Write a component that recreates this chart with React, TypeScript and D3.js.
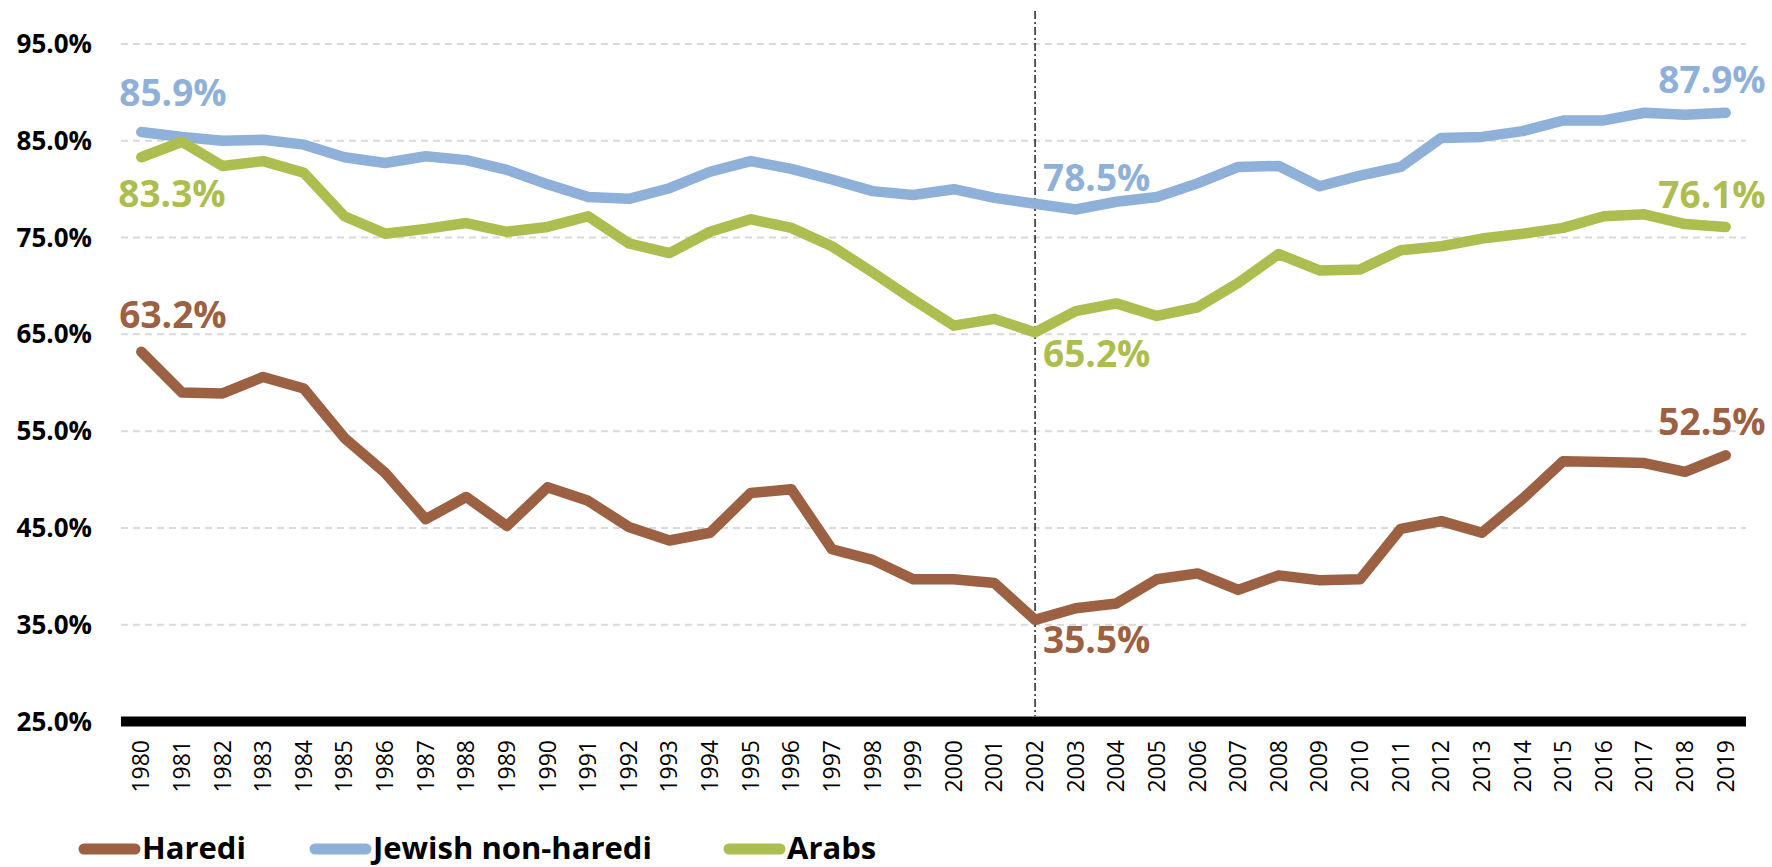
import * as d3 from "d3";
import { useEffect, useRef } from "react";

const years = d3.range(1980, 2020);

const haredi = [
  63.2, 59.0, 58.9, 60.6, 59.4, 54.3, 50.7, 45.9, 48.2, 45.2,
  49.2, 47.8, 45.1, 43.7, 44.5, 48.6, 49.0, 42.8, 41.7, 39.7,
  39.7, 39.3, 35.5, 36.7, 37.2, 39.7, 40.3, 38.6, 40.1, 39.6,
  39.7, 44.9, 45.7, 44.5, 48.0, 51.9, 51.8, 51.7, 50.8, 52.5,
];

const jewishNonHaredi = [
  85.9, 85.4, 85.0, 85.1, 84.6, 83.3, 82.7, 83.4, 83.0, 82.0,
  80.5, 79.2, 79.0, 80.1, 81.8, 82.9, 82.1, 81.0, 79.8, 79.4,
  80.0, 79.1, 78.5, 77.9, 78.7, 79.2, 80.6, 82.3, 82.4, 80.3,
  81.4, 82.3, 85.3, 85.4, 86.0, 87.1, 87.1, 87.9, 87.7, 87.9,
];

const arabs = [
  83.3, 84.9, 82.4, 82.9, 81.7, 77.2, 75.4, 75.9, 76.5, 75.6,
  76.1, 77.2, 74.4, 73.4, 75.6, 76.9, 76.0, 74.1, 71.4, 68.6,
  65.9, 66.6, 65.2, 67.4, 68.2, 66.9, 67.8, 70.3, 73.3, 71.6,
  71.7, 73.7, 74.1, 74.9, 75.4, 76.0, 77.2, 77.4, 76.4, 76.1,
];

const yTicks = [25, 35, 45, 55, 65, 75, 85, 95];
const seriesNames = ["Haredi", "Jewish non-haredi", "Arabs"];
const seriesColors = ["#9c6042", "#8fb0d8", "#aebd4f"];
const markerYear = 2002;
const labelYears = [1980, 2002, 2019];

const W = 1772;
const H = 867;

export default function App() {
  const svgRef = useRef<SVGSVGElement>(null);

  useEffect(() => {
    const svg = d3.select(svgRef.current);
    svg.selectAll("*").remove();

    const font = "'Open Sans', 'Noto Sans', sans-serif";
    const plotLeft = 121;
    const plotRight = 1746;

    const x = d3.scalePoint<number>().domain(years).range([plotLeft, plotRight]).padding(0.5);
    const y = d3.scaleLinear().domain([25, 95]).range([721.5, 44]);

    const data = [haredi, jewishNonHaredi, arabs];

    // gridlines
    svg
      .append("g")
      .selectAll("line")
      .data(yTicks.filter((t) => t > 25))
      .join("line")
      .attr("x1", plotLeft)
      .attr("x2", plotRight)
      .attr("y1", (d) => y(d))
      .attr("y2", (d) => y(d))
      .attr("stroke", "#d9d9d9")
      .attr("stroke-width", 2)
      .attr("stroke-dasharray", "7 5");

    // y labels
    svg
      .append("g")
      .selectAll("text")
      .data(yTicks)
      .join("text")
      .attr("x", 92)
      .attr("y", (d) => y(d))
      .attr("dy", "0.35em")
      .attr("text-anchor", "end")
      .attr("font-family", font)
      .attr("font-weight", 700)
      .attr("font-size", 26)
      .attr("fill", "#000")
      .text((d) => d.toFixed(1) + "%");

    // vertical marker
    svg
      .append("line")
      .attr("x1", x(markerYear)!)
      .attr("x2", x(markerYear)!)
      .attr("y1", 11)
      .attr("y2", 716)
      .attr("stroke", "#000")
      .attr("stroke-width", 1.3)
      .attr("stroke-dasharray", "8 3 2 3");

    // x axis base line
    svg
      .append("line")
      .attr("x1", plotLeft)
      .attr("x2", plotRight)
      .attr("y1", y(25))
      .attr("y2", y(25))
      .attr("stroke", "#000")
      .attr("stroke-width", 10);

    // x labels
    svg
      .append("g")
      .selectAll("text")
      .data(years)
      .join("text")
      .attr("transform", (d) => `translate(${x(d)! + 8}, 740) rotate(-90)`)
      .attr("text-anchor", "end")
      .attr("font-family", font)
      .attr("font-size", 23)
      .attr("fill", "#000")
      .text((d) => String(d));

    // lines
    const line = d3
      .line<number>()
      .x((_, i) => x(years[i])!)
      .y((d) => y(d));

    data.forEach((vals, k) => {
      svg
        .append("path")
        .attr("d", line(vals))
        .attr("fill", "none")
        .attr("stroke", seriesColors[k])
        .attr("stroke-width", 10.5)
        .attr("stroke-linecap", "round")
        .attr("stroke-linejoin", "round");
    });

    // value labels: [series][labelYear] -> offset
    const placement: Record<string, [string, number, number][]> = {
      "0": [["start", -22, -24], ["start", 8, 33], ["end", 40, -20]],
      "1": [["start", -22, -26], ["start", 8, -13], ["end", 40, -20]],
      "2": [["start", -23, 50], ["start", 8, 35], ["end", 40, -19]],
    };
    data.forEach((vals, k) => {
      labelYears.forEach((yr, j) => {
        const v = vals[years.indexOf(yr)];
        const [anchor, dx, dy] = placement[String(k)][j];
        svg
          .append("text")
          .attr("x", x(yr)! + dx)
          .attr("y", y(v) + dy)
          .attr("text-anchor", anchor)
          .attr("font-family", font)
          .attr("font-weight", 700)
          .attr("font-size", 37)
          .attr("fill", seriesColors[k])
          .text(v.toFixed(1) + "%");
      });
    });

    // legend
    const legendX = [79, 310, 724];
    const legend = svg
      .append("g")
      .selectAll("g")
      .data(seriesNames)
      .join("g")
      .attr("transform", (_, i) => `translate(${legendX[i]}, 849)`);
    legend
      .append("line")
      .attr("x1", 5)
      .attr("x2", 56)
      .attr("stroke", (_, i) => seriesColors[i])
      .attr("stroke-width", 11)
      .attr("stroke-linecap", "round");
    legend
      .append("text")
      .attr("x", 63)
      .attr("y", 10)
      .attr("font-family", font)
      .attr("font-weight", 700)
      .attr("font-size", 31)
      .attr("fill", "#000")
      .text((d) => d);
  }, []);

  return (
    <svg
      ref={svgRef}
      width={W}
      height={H}
      style={{ position: "absolute", left: 0, top: 0, background: "#fff" }}
    />
  );
}
